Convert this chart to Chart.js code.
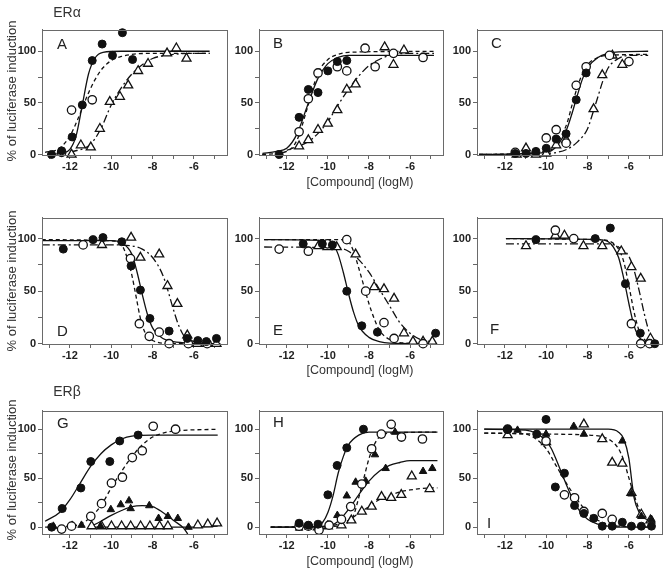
<!DOCTYPE html>
<html>
<head>
<meta charset="utf-8">
<script src="https://cdn.jsdelivr.net/npm/chart.js@4.4.1/dist/chart.umd.min.js"></script>
<style>
  html, body { margin:0; padding:0; background:#fff; }
  body { width:664px; height:576px; position:relative; overflow:hidden; font-family:"Liberation Sans", Arial, sans-serif; }
  canvas { position:absolute; }
  .txt { position:absolute; color:#333; white-space:nowrap; line-height:1; }
  .letter { position:absolute; color:#222; font-size:15px; line-height:1; }
</style>
</head>
<body>
<script>
// ---------- Data (x = log[Compound] M, y = % of luciferase induction) ----------
const xTickValues = [-13,-12,-11,-10,-9,-8,-7,-6,-5];
const xTickLabels = ['', '-12', '', '-10', '', '-8', '', '-6', ''];
const yTickValues = [0,25,50,75,100];
const yTickLabels = ['0','','50','','100'];

// Panel A
const A_fc = [[-12.89,0],[-12.4,3.5],[-11.89,17],[-11.4,48],[-10.92,91],[-10.44,107],[-9.94,96],[-9.46,118],[-8.97,92]];
const A_oc = [[-12.4,2],[-11.92,43],[-10.92,53]];
const A_ot = [[-11.92,0],[-11.47,9],[-10.99,7],[-10.55,25],[-10.07,51],[-9.58,56],[-9.18,67],[-8.7,81],[-8.22,88],[-7.3,98],[-6.85,103],[-6.36,93]];
const A_fc_fit = [[-13.1,0],[-12.4,1],[-12,5],[-11.7,18],[-11.4,48],[-11.1,78],[-10.8,93],[-10.4,99],[-9.5,100],[-5.24,100]];
const A_oc_fit = [[-13.2,2],[-12.5,6],[-12,18],[-11.6,35],[-11.2,55],[-10.8,72],[-10.4,84],[-10,91],[-9.5,95],[-9,97],[-8,98],[-5.24,98]];
const A_ot_fit = [[-12,2],[-11,10],[-10.5,25],[-10,48],[-9.5,65],[-9,78],[-8.5,87],[-8,93],[-7,97],[-6,98],[-5.24,98]];

// Panel B
const B_fc = [[-12.37,0],[-11.4,36],[-10.95,63],[-10.48,60],[-10.0,81],[-9.54,90],[-9.08,91]];
const B_oc = [[-11.4,22],[-10.95,54],[-10.48,79],[-9.54,85],[-9.08,81],[-8.19,103],[-7.7,85],[-6.81,98],[-5.37,94]];
const B_ot = [[-11.4,8],[-10.95,14],[-10.48,24],[-10.0,30],[-9.54,43],[-9.08,63],[-8.65,68],[-7.24,104],[-6.81,87],[-6.3,101]];
const B_fc_fit = [[-13.18,1],[-12.5,3],[-12,6],[-11.5,20],[-11,47],[-10.5,73],[-10,88],[-9.5,94],[-9,96],[-4.84,96]];
const B_oc_fit = [[-13.2,0],[-12,3],[-11.5,14],[-11,45],[-10.5,78],[-10,92],[-9.5,97],[-9,99],[-4.84,100]];
const B_ot_fit = [[-12,4],[-11,12],[-10.5,20],[-10,32],[-9.5,48],[-9,63],[-8.5,76],[-8,86],[-7.5,92],[-7,96],[-6,98],[-4.84,98]];

// Panel C
const C_fc = [[-11.5,1],[-10.98,1],[-10.5,3],[-10.0,6],[-9.52,15],[-9.04,20],[-8.55,53],[-8.07,79]];
const C_oc = [[-11.5,2],[-10.0,16],[-9.52,24],[-9.04,11],[-8.55,67],[-8.07,85],[-6.94,96],[-6.0,90]];
const C_ot = [[-11.43,0],[-10.98,6],[-10.5,0],[-10.0,1],[-9.52,9],[-9.04,14],[-7.71,44],[-7.29,77],[-6.8,96],[-6.32,87]];
const C_fc_fit = [[-13.25,0],[-10,2],[-9.5,8],[-9,25],[-8.75,40],[-8.5,57],[-8.25,73],[-8,84],[-7.5,94],[-7,98],[-6.5,99.5],[-5.07,100]];
const C_oc_fit = [[-13.25,0],[-10,3],[-9.5,10],[-9,30],[-8.75,48],[-8.5,65],[-8.25,78],[-8,87],[-7.5,94],[-7,96],[-5.07,97]];
const C_ot_fit = [[-13.25,0],[-10,1],[-9,5],[-8.5,12],[-8,25],[-7.75,40],[-7.5,56],[-7.25,72],[-7,84],[-6.5,93],[-6,96],[-5.07,96]];

// Panel D
const D_fc = [[-12.32,90],[-10.88,99],[-10.4,101],[-9.49,97],[-9.04,74],[-8.59,51],[-8.13,24],[-7.2,12],[-6.32,5],[-5.81,3],[-5.4,2],[-4.91,5]];
const D_oc = [[-11.36,94],[-9.07,81],[-8.64,19],[-8.16,7],[-7.68,11],[-7.2,0],[-6.27,0],[-5.36,0]];
const D_ot = [[-10.45,94],[-9.04,101],[-8.59,82],[-7.68,85],[-7.28,55],[-6.8,38],[-6.32,8],[-5.84,0],[-5.36,0],[-4.91,0]];
const D_fc_fit = [[-13.36,98],[-10,98],[-9.5,96],[-9,85],[-8.75,68],[-8.5,47],[-8.25,28],[-8,15],[-7.5,5],[-7,2],[-6,0.5],[-4.72,0]];
const D_oc_fit = [[-13.36,99],[-10,98],[-9.5,94],[-9.2,80],[-9,65],[-8.8,45],[-8.6,25],[-8.4,12],[-8,3],[-7,0],[-4.72,0]];
const D_ot_fit = [[-13.36,94],[-10,94],[-9,93],[-8.5,90],[-8,82],[-7.5,65],[-7.25,50],[-7,33],[-6.75,18],[-6.5,8],[-6,2],[-5.5,0.5],[-4.72,0]];

// Panel E
const E_fc = [[-11.2,95],[-10.27,95],[-9.78,94],[-9.08,50],[-8.35,17],[-7.59,11],[-4.76,10]];
const E_oc = [[-12.37,90],[-10.95,88],[-10.02,95],[-9.08,99],[-8.16,50],[-7.27,20],[-6.78,5],[-5.37,0]];
const E_ot = [[-10.46,93],[-10.02,92],[-9.57,92],[-8.65,85],[-7.75,54],[-7.27,52],[-6.78,43],[-6.3,10],[-5.86,2],[-5.37,2],[-4.92,2]];
const E_fc_fit = [[-13.1,99],[-10,98],[-9.75,95],[-9.5,85],[-9.25,68],[-9,48],[-8.75,30],[-8.5,17],[-8,6],[-7.5,2],[-7,0.5],[-4.8,0]];
const E_oc_fit = [[-13.1,99],[-9.5,99],[-9,97],[-8.75,88],[-8.5,72],[-8.25,55],[-8,38],[-7.75,24],[-7.5,13],[-7,4],[-6.5,1],[-4.8,0]];
const E_ot_fit = [[-13.1,92],[-9.5,91],[-9,88],[-8.5,80],[-8,68],[-7.5,52],[-7,36],[-6.5,20],[-6,10],[-5.5,4],[-5,2],[-4.8,1.5]];

// Panel F
const F_fc = [[-10.5,99],[-7.63,100],[-6.9,110],[-6.17,57],[-5.45,10],[-4.75,0]];
const F_oc = [[-9.56,108],[-8.67,100],[-5.88,19],[-5.43,0],[-5.0,0]];
const F_ot = [[-10.98,93],[-9.56,103],[-9.12,103],[-8.2,93],[-7.29,93],[-6.37,88],[-5.88,73],[-5.43,62],[-4.96,5]];
const F_fc_fit = [[-11.95,100],[-7.5,99],[-7,97],[-6.75,92],[-6.5,82],[-6.25,62],[-6,38],[-5.75,17],[-5.5,6],[-5,0.5],[-4.67,0]];
const F_oc_fit = [[-11.95,100],[-7.5,99],[-7,98],[-6.5,90],[-6.25,78],[-6,55],[-5.75,30],[-5.5,12],[-5.25,4],[-4.9,0.5]];
const F_ot_fit = [[-11.95,95],[-7,95],[-6.5,92],[-6,83],[-5.75,70],[-5.5,50],[-5.25,28],[-5,10],[-4.75,2]];

// Panel G
const G_fc = [[-12.88,0],[-12.37,19],[-11.47,40],[-10.99,67],[-10.07,67],[-9.59,88],[-8.7,94]];
const G_oc = [[-12.4,-2],[-11.92,1],[-10.99,11],[-10.47,24],[-9.99,45],[-9.46,51],[-8.98,71],[-8.5,78],[-7.97,103],[-6.89,100]];
const G_ft = [[-12.8,1],[-11.89,2],[-11.44,2],[-10.52,1],[-10.02,18],[-9.54,23],[-9.14,27],[-9.06,19],[-8.16,22],[-7.71,9],[-7.26,11],[-6.78,9],[-6.26,0]];
const G_ot = [[-10.95,1],[-10.47,1],[-9.99,1],[-9.5,1],[-9.06,1],[-8.58,1],[-8.13,1],[-7.66,1],[-7.26,1],[-5.81,2],[-5.33,3],[-4.88,4]];
const G_fc_fit = [[-13.2,6],[-12.5,15],[-12,28],[-11.5,45],[-11,62],[-10.5,75],[-10,84],[-9.5,90],[-9,93],[-8,94],[-4.85,94]];
const G_oc_fit = [[-13.2,0],[-12,1],[-11.5,3],[-11,10],[-10.5,22],[-10,40],[-9.5,57],[-9,72],[-8.5,84],[-8,92],[-7.5,96],[-7,98],[-4.85,100]];
const G_ft_fit = [[-10.95,1],[-10.5,6],[-10,12],[-9.5,17],[-9,21],[-8.5,22],[-8,21],[-7.5,15],[-7,7],[-6.5,-1],[-6.3,-7]];
const G_ot_fit = [[-11,0],[-6.5,0],[-4.85,1]];

// Panel H
const H_fc = [[-11.4,4],[-10.95,2],[-10.48,3],[-10.0,33],[-9.55,63],[-9.08,81],[-8.27,100]];
const H_oc = [[-11.4,1],[-10.95,1],[-10.43,-3],[-9.94,2],[-9.34,8],[-8.89,21],[-8.35,44],[-7.87,80],[-7.4,95],[-6.92,105],[-6.42,92],[-5.4,90]];
const H_ft = [[-11.4,-1],[-10.95,0],[-10.48,1],[-9.54,12],[-9.08,32],[-8.65,46],[-8.16,47],[-7.71,74],[-7.19,60],[-6.73,97],[-5.37,57],[-4.92,60]];
const H_ot = [[-10.48,0],[-10.0,1],[-9.34,2],[-8.86,7],[-8.35,16],[-7.87,21],[-7.39,31],[-6.92,30],[-6.43,33],[-5.92,52],[-5.05,39]];
const H_fc_fit = [[-12.78,0],[-10.5,1],[-10.25,5],[-10,15],[-9.75,32],[-9.5,55],[-9.25,72],[-9,84],[-8.5,94],[-8,97],[-4.67,97]];
const H_oc_fit = [[-12.78,0],[-9.5,1],[-9,5],[-8.75,12],[-8.5,30],[-8.25,50],[-8,70],[-7.75,84],[-7.5,92],[-7,96],[-4.67,97]];
const H_ft_fit = [[-12.78,0],[-10,1],[-9.5,6],[-9,18],[-8.5,33],[-8,47],[-7.5,57],[-7,63],[-6.5,66],[-6,68],[-4.67,68]];
const H_ot_fit = [[-12.78,0],[-10,1],[-9.5,3],[-9,7],[-8.5,14],[-8,21],[-7.5,28],[-7,32],[-6.5,36],[-6,38],[-5,40],[-4.67,40]];

// Panel I
const I_fc = [[-11.87,100],[-10.46,95],[-10.01,110],[-9.56,41],[-9.12,55],[-8.63,22],[-8.18,14],[-7.7,9],[-7.29,1],[-6.81,1],[-6.32,5],[-5.88,1],[-5.4,1],[-4.91,1]];
const I_oc = [[-11.87,100],[-10.01,88],[-9.12,33],[-8.63,30],[-8.18,16],[-7.29,14],[-6.81,8]];
const I_ft = [[-11.39,99],[-10.01,95],[-8.67,103],[-8.18,95],[-6.32,88],[-5.88,34],[-5.4,11],[-4.91,8]];
const I_ot = [[-11.87,94],[-10.01,87],[-8.18,105],[-7.29,90],[-6.81,66],[-6.32,65],[-5.88,35],[-5.4,13],[-4.96,7]];
const I_fc_fit = [[-13,100],[-11,99],[-10.5,96],[-10,88],[-9.75,80],[-9.5,68],[-9.25,55],[-9,42],[-8.75,30],[-8.5,20],[-8,8],[-7.5,3],[-7,1],[-6.5,0],[-4.9,0]];
const I_oc_fit = [[-13,96],[-11,95],[-10.5,90],[-10,80],[-9.5,62],[-9,44],[-8.5,28],[-8,15],[-7.5,7],[-7,3],[-6.5,1],[-4.9,0]];
const I_ft_fit = [[-13,100],[-7,100],[-6.5,97],[-6.25,90],[-6,70],[-5.85,45],[-5.75,30],[-5.5,15],[-5.25,9],[-5,7],[-4.9,6]];
const I_ot_fit = [[-13,96],[-10,95],[-8,94],[-7,90],[-6.5,80],[-6.25,68],[-6,50],[-5.75,33],[-5.5,18],[-5.25,10],[-5,5],[-4.9,4]];

// ---------- Layout ----------
const colBox = [[41.7,226.5],[259.3,443],[476.7,661.7]];
const rowBox = [[26.7,155,-0.5,121],[215,344.3,-0.3,120],[407.7,534,-7,119]];
const xRange = [-13.35,-4.4];

const SOLID = [], DASH = [4,3], DASHDOT = [8,3,2,3];

const panels = [
  {id:'A', r:0, c:0, letter:[57,36], series:[
    {pts:A_fc, fit:A_fc_fit, m:'fc', dash:SOLID},{pts:A_oc, fit:A_oc_fit, m:'oc', dash:DASH},{pts:A_ot, fit:A_ot_fit, m:'ot', dash:DASHDOT}]},
  {id:'B', r:0, c:1, letter:[273,35], series:[
    {pts:B_fc, fit:B_fc_fit, m:'fc', dash:SOLID},{pts:B_oc, fit:B_oc_fit, m:'oc', dash:DASH},{pts:B_ot, fit:B_ot_fit, m:'ot', dash:DASHDOT}]},
  {id:'C', r:0, c:2, letter:[491,35], series:[
    {pts:C_fc, fit:C_fc_fit, m:'fc', dash:SOLID},{pts:C_oc, fit:C_oc_fit, m:'oc', dash:DASH},{pts:C_ot, fit:C_ot_fit, m:'ot', dash:DASHDOT}]},
  {id:'D', r:1, c:0, letter:[57,323], series:[
    {pts:D_fc, fit:D_fc_fit, m:'fc', dash:SOLID},{pts:D_oc, fit:D_oc_fit, m:'oc', dash:DASH},{pts:D_ot, fit:D_ot_fit, m:'ot', dash:DASHDOT}]},
  {id:'E', r:1, c:1, letter:[273,322], series:[
    {pts:E_fc, fit:E_fc_fit, m:'fc', dash:SOLID},{pts:E_oc, fit:E_oc_fit, m:'oc', dash:DASH},{pts:E_ot, fit:E_ot_fit, m:'ot', dash:DASHDOT}]},
  {id:'F', r:1, c:2, letter:[490,321], series:[
    {pts:F_fc, fit:F_fc_fit, m:'fc', dash:SOLID},{pts:F_oc, fit:F_oc_fit, m:'oc', dash:DASH},{pts:F_ot, fit:F_ot_fit, m:'ot', dash:DASHDOT}]},
  {id:'G', r:2, c:0, letter:[57,415], series:[
    {pts:G_fc, fit:G_fc_fit, m:'fc', dash:SOLID},{pts:G_oc, fit:G_oc_fit, m:'oc', dash:DASH},{pts:G_ft, fit:G_ft_fit, m:'ft', dash:SOLID},{pts:G_ot, fit:G_ot_fit, m:'ot', dash:SOLID}]},
  {id:'H', r:2, c:1, letter:[273,414], series:[
    {pts:H_fc, fit:H_fc_fit, m:'fc', dash:SOLID},{pts:H_oc, fit:H_oc_fit, m:'oc', dash:DASH},{pts:H_ft, fit:H_ft_fit, m:'ft', dash:SOLID},{pts:H_ot, fit:H_ot_fit, m:'ot', dash:DASH}]},
  {id:'I', r:2, c:2, letter:[487,515], series:[
    {pts:I_fc, fit:I_fc_fit, m:'fc', dash:SOLID},{pts:I_oc, fit:I_oc_fit, m:'oc', dash:DASH},{pts:I_ft, fit:I_ft_fit, m:'ft', dash:SOLID},{pts:I_ot, fit:I_ot_fit, m:'ot', dash:DASH}]}
];

const markerStyle = {
  fc:{pointStyle:'circle', radius:4, bg:'#111', bw:1},
  oc:{pointStyle:'circle', radius:4.2, bg:'#fff', bw:1.3},
  ft:{pointStyle:'triangle', radius:4.3, bg:'#111', bw:1},
  ot:{pointStyle:'triangle', radius:5.2, bg:'#fff', bw:1.3}
};

const framePlugin = {
  id:'frame',
  afterDraw(chart){
    const a = chart.chartArea, ctx = chart.ctx;
    ctx.save();
    ctx.strokeStyle = '#6a6a6a';
    ctx.lineWidth = 1;
    ctx.strokeRect(Math.round(a.left)+0.5, Math.round(a.top)+0.5, Math.round(a.right-a.left), Math.round(a.bottom-a.top));
    ctx.restore();
  }
};

const PADL = 40, PADT = 6, PADR = 8, PADB = 24;
const toXY = arr => arr.map(p => ({x:p[0], y:p[1]}));

panels.forEach(p => {
  const [L,R] = colBox[p.c];
  const [T,B,ymin,ymax] = rowBox[p.r];
  const cv = document.createElement('canvas');
  const w = Math.round(R - L) + PADL + PADR;
  const h = Math.round(B - T) + PADT + PADB;
  cv.width = w; cv.height = h;
  cv.style.left = Math.round(L - PADL) + 'px';
  cv.style.top = Math.round(T - PADT) + 'px';
  cv.style.width = w + 'px'; cv.style.height = h + 'px';
  document.body.appendChild(cv);

  const datasets = [];
  p.series.forEach(s => {
    const ms = markerStyle[s.m];
    datasets.push({
      data: toXY(s.pts), showLine:false, order:1, clip:10,
      pointStyle: ms.pointStyle, pointRadius: ms.radius, pointHoverRadius: ms.radius,
      pointBackgroundColor: ms.bg, pointBorderColor:'#111', pointBorderWidth: ms.bw
    });
    datasets.push({
      data: toXY(s.fit), showLine:true, order:2, pointRadius:0, pointHoverRadius:0,
      borderColor:'#111', borderWidth:1.3, borderDash:s.dash, fill:false,
      cubicInterpolationMode:'monotone'
    });
  });

  new Chart(cv, {
    type:'scatter',
    data:{datasets},
    plugins:[framePlugin],
    options:{
      responsive:false, animation:false, devicePixelRatio:1, events:[],
      layout:{padding:{left:0, top:PADT, right:PADR, bottom:0}},
      plugins:{legend:{display:false}, tooltip:{enabled:false}},
      scales:{
        x:{
          type:'linear', min:xRange[0], max:xRange[1],
          afterBuildTicks: sc => { sc.ticks = xTickValues.map(v => ({value:v})); },
          afterFit: sc => { sc.height = PADB; },
          ticks:{ autoSkip:false, maxRotation:0, padding:1, color:'#222',
                  font:{family:'"Liberation Sans", Arial, sans-serif', size:11, weight:'bold'},
                  callback:(v) => { const i = xTickValues.indexOf(v); return i >= 0 ? xTickLabels[i] : ''; } },
          grid:{ drawOnChartArea:false, drawTicks:true, tickLength:4, color:'#666' },
          border:{ display:true, color:'#6a6a6a', width:1 }
        },
        y:{
          type:'linear', min:ymin, max:ymax,
          afterBuildTicks: sc => { sc.ticks = yTickValues.map(v => ({value:v})); },
          afterFit: sc => { sc.width = PADL; },
          ticks:{ autoSkip:false, padding:2, color:'#222',
                  font:{family:'"Liberation Sans", Arial, sans-serif', size:11, weight:'bold'},
                  callback:(v) => { const i = yTickValues.indexOf(v); return i >= 0 ? yTickLabels[i] : ''; } },
          grid:{ drawOnChartArea:false, drawTicks:true, tickLength:4, color:'#666' },
          border:{ display:true, color:'#6a6a6a', width:1 }
        }
      }
    }
  });

  const lt = document.createElement('div');
  lt.className = 'letter';
  lt.textContent = p.id;
  lt.style.left = p.letter[0] + 'px';
  lt.style.top = p.letter[1] + 'px';
  document.body.appendChild(lt);
});

// ---------- Text ----------
function addText(str, cx, cy, size, rotate){
  const d = document.createElement('div');
  d.className = 'txt';
  d.textContent = str;
  d.style.fontSize = size + 'px';
  d.style.left = cx + 'px';
  d.style.top = cy + 'px';
  d.style.transform = 'translate(-50%,-50%)' + (rotate ? ' rotate(-90deg)' : '');
  document.body.appendChild(d);
}
addText('ERα', 67, 12, 14, false);
addText('ERβ', 67, 391, 14, false);
addText('% of luciferase induction', 11, 91, 13, true);
addText('% of luciferase induction', 11, 281, 13, true);
addText('% of luciferase induction', 11, 470, 13, true);
addText('[Compound] (logM)', 360, 182, 12.5, false);
addText('[Compound] (logM)', 360, 370, 12.5, false);
addText('[Compound] (logM)', 360, 561, 12.5, false);
</script>
</body>
</html>
